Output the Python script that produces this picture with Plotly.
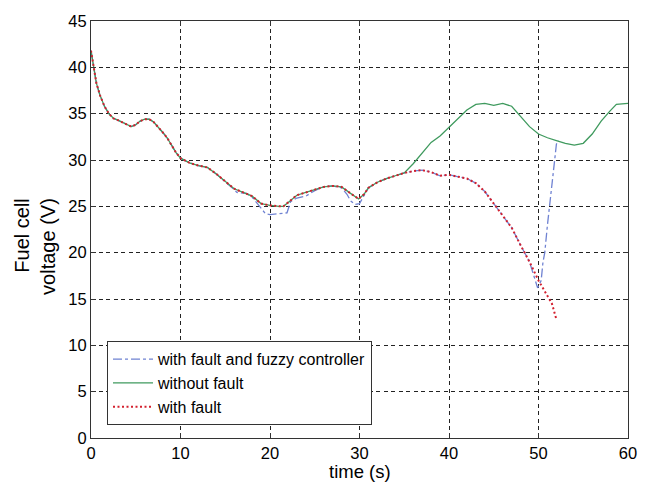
import plotly.graph_objects as go

# shared early part (all three series overlap here)
t_common = [0, 0.3, 0.6, 1, 1.5, 2, 2.5, 3, 4, 4.5, 5, 5.5, 6, 6.5, 7, 7.5, 8, 8.5, 9, 9.5,
            10, 11, 12, 13, 14, 15, 16, 17, 18, 19, 20, 21, 21.5, 22, 23, 24, 25, 26, 27,
            28, 29, 29.9, 30.5, 31, 32, 33, 34, 35]
v_common = [41.8, 40.0, 38.3, 37.0, 35.8, 35.0, 34.5, 34.3, 33.8, 33.6, 33.8, 34.2, 34.4, 34.4,
            34.1, 33.6, 33.0, 32.4, 31.6, 30.8, 30.2, 29.7, 29.4, 29.2, 28.5, 27.7, 26.9, 26.5,
            26.1, 25.3, 25.1, 25.0, 25.0, 25.4, 26.2, 26.5, 26.8, 27.1, 27.2, 27.1, 26.4, 25.8,
            26.3, 27.0, 27.6, 28.0, 28.3, 28.6]

# with fault (after t = 35)
t_fault_tail = [36, 37, 38, 39, 40, 41, 42, 43, 44, 45, 46, 47, 48, 49, 50, 51, 51.5, 52]
v_fault_tail = [28.8, 28.9, 28.7, 28.3, 28.4, 28.2, 28.0, 27.5, 26.6, 25.3, 24.0, 22.7, 20.8,
                19.0, 17.0, 15.4, 14.5, 12.8]

# without fault (after t = 35)
t_nofault_tail = [36, 37, 38, 39, 40, 41, 42, 43, 44, 45, 46, 47, 48, 49, 50, 51, 52, 53, 54,
                  55, 56, 57, 58, 58.7, 60]
v_nofault_tail = [29.6, 30.8, 31.9, 32.6, 33.5, 34.5, 35.4, 36.0, 36.1, 35.9, 36.1, 35.8, 34.7,
                  33.6, 32.8, 32.4, 32.1, 31.8, 31.6, 31.8, 32.8, 34.2, 35.3, 36.0, 36.1]

# with fault and fuzzy controller
t_fuzzy = [0, 0.3, 0.6, 1, 1.5, 2, 2.5, 3, 4, 4.5, 5, 5.5, 6, 6.5, 7, 7.5, 8, 8.5, 9, 9.5,
           10, 11, 12, 13, 14, 15, 16, 16.3, 17.4, 18, 19, 19.5, 20, 21, 21.9, 22.3, 23, 24,
           25, 26, 27, 28, 28.6, 29, 29.5, 30, 30.5, 31, 32, 33, 34, 35, 36, 37, 38, 39, 40,
           41, 42, 43, 44, 45, 46, 47, 48, 49, 49.9, 50.3, 50.5, 50.7, 51, 51.2, 51.6, 52, 52.2]
v_fuzzy = [41.8, 40.0, 38.3, 37.0, 35.8, 35.0, 34.5, 34.3, 33.8, 33.6, 33.8, 34.2, 34.4, 34.4,
           34.1, 33.6, 33.0, 32.4, 31.6, 30.8, 30.2, 29.7, 29.4, 29.2, 28.5, 27.7, 26.8, 26.5,
           26.4, 26.0, 24.8, 24.2, 24.1, 24.2, 24.3, 25.5, 25.9, 26.1, 26.7, 27.1, 27.2, 27.0,
           26.3, 25.6, 25.2, 25.3, 26.1, 27.0, 27.6, 28.0, 28.3, 28.6, 28.8, 28.9, 28.7, 28.3,
           28.4, 28.2, 28.0, 27.5, 26.6, 25.3, 24.0, 22.7, 20.8, 19.0, 16.2, 17.0, 19.0, 20.0,
           23.0, 25.0, 28.2, 31.7, 32.1]

x_ticks = [0, 10, 20, 30, 40, 50, 60]
y_ticks = [0, 5, 10, 15, 20, 25, 30, 35, 40, 45]

FONT = "Liberation Sans, Arial, Helvetica, sans-serif"

fig = go.Figure()
fig.add_trace(go.Scatter(x=t_fuzzy, y=v_fuzzy, mode="lines",
                         name="with fault and fuzzy controller",
                         line=dict(color="#6f82d2", width=1.3, dash="dashdot")))
fig.add_trace(go.Scatter(x=t_common + t_nofault_tail, y=v_common + v_nofault_tail,
                         mode="lines", name="without fault",
                         line=dict(color="#3f9a5e", width=1.3)))
fig.add_trace(go.Scatter(x=t_common + t_fault_tail, y=v_common + v_fault_tail,
                         mode="lines", name="with fault",
                         line=dict(color="#d3202e", width=2, dash="2px,2.5px")))

axis_common = dict(showline=True, linecolor="#333333", linewidth=1, mirror="ticks",
                   ticks="inside", ticklen=5, tickcolor="#333333",
                   showgrid=True, gridcolor="#222222", gridwidth=1, griddash="4px,3.5px",
                   zeroline=False,
                   tickfont=dict(family=FONT, size=16.5, color="black"))

fig.update_xaxes(range=[0, 60], tickvals=x_ticks, **axis_common)
fig.update_yaxes(range=[0, 45], tickvals=y_ticks, **axis_common)

fig.add_annotation(text="time (s)", xref="paper", yref="paper", x=0.5, y=-0.1105,
                   xanchor="center", yanchor="bottom", showarrow=False,
                   font=dict(family=FONT, size=18.5, color="black"))
fig.add_annotation(text="Fuel cell<br>voltage (V)", xref="paper", yref="paper",
                   x=-0.104, y=0.4586, xanchor="center", yanchor="middle",
                   textangle=-90, align="right", showarrow=False,
                   font=dict(family=FONT, size=20, color="black"))

fig.update_layout(
    width=649, height=485,
    margin=dict(l=91, r=21, t=15, b=47),
    paper_bgcolor="white", plot_bgcolor="white",
    showlegend=True,
    legend=dict(x=0.0298, y=0.0307, xanchor="left", yanchor="bottom",
                bgcolor="white", bordercolor="#333333", borderwidth=1,
                font=dict(family=FONT, size=16, color="black"),
                tracegroupgap=0, itemwidth=40),
)

fig.write_html("out.html", config={"displayModeBar": False},
               post_script="document.body.style.margin='0px';")
